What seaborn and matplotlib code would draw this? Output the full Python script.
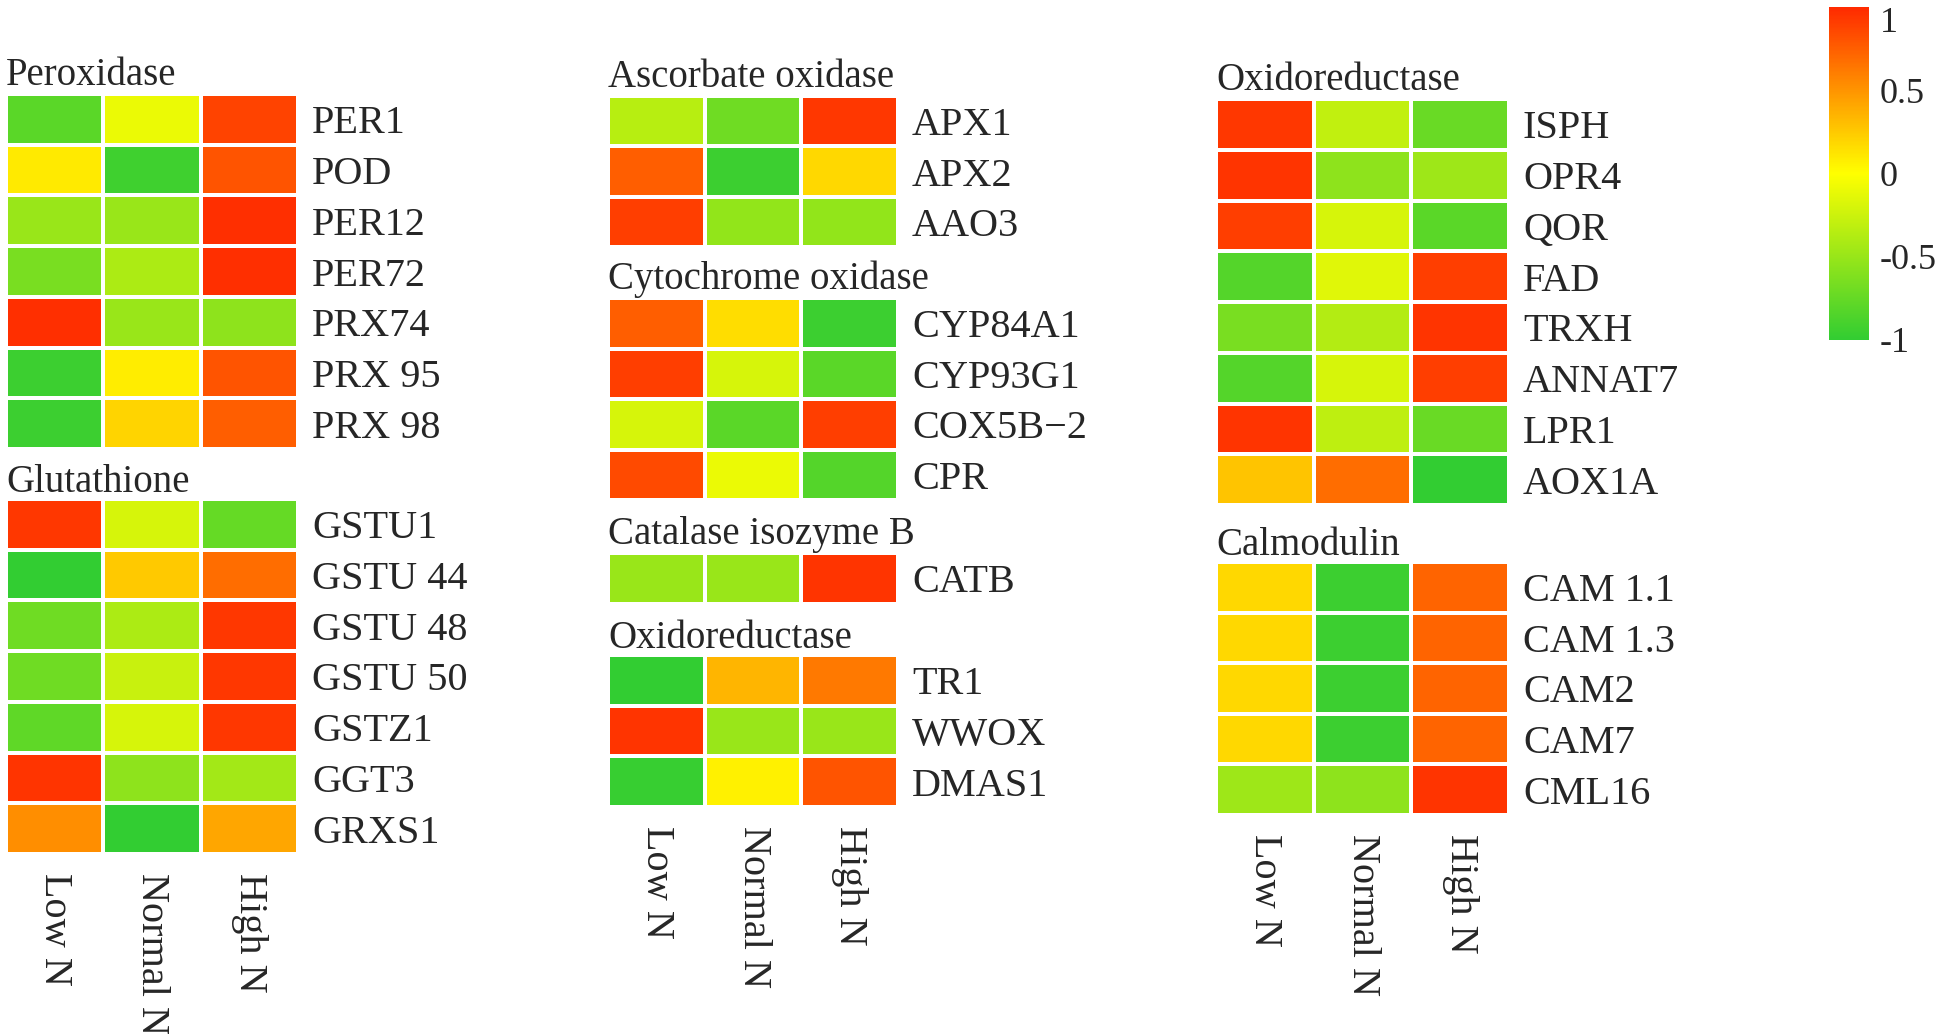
import numpy as np
import pandas as pd
import matplotlib
matplotlib.use('Agg')
import matplotlib.pyplot as plt
import seaborn as sns
from matplotlib.colors import LinearSegmentedColormap

conditions = ['Low N', 'Normal N', 'High N']

# values (scaled -1..1), columns = Low / Normal / High N
peroxidase_genes = ['PER1', 'POD', 'PER12', 'PER72', 'PRX74', 'PRX 95', 'PRX 98']
peroxidase_vals = [[-0.80, -0.10, 0.88],
                   [0.10, -0.93, 0.80],
                   [-0.50, -0.50, 0.97],
                   [-0.65, -0.40, 0.97],
                   [0.97, -0.50, -0.55],
                   [-0.95, 0.08, 0.80],
                   [-0.95, 0.20, 0.75]]

glutathione_genes = ['GSTU1', 'GSTU 44', 'GSTU 48', 'GSTU 50', 'GSTZ1', 'GGT3', 'GRXS1']
glutathione_vals = [[0.93, -0.20, -0.75],
                    [-1.00, 0.25, 0.68],
                    [-0.70, -0.40, 0.93],
                    [-0.70, -0.27, 0.93],
                    [-0.78, -0.20, 0.93],
                    [0.95, -0.55, -0.45],
                    [0.53, -1.00, 0.42]]

ascorbate_genes = ['APX1', 'APX2', 'AAO3']
ascorbate_vals = [[-0.35, -0.70, 0.93],
                  [0.75, -0.95, 0.18],
                  [0.90, -0.53, -0.53]]

cytochrome_genes = ['CYP84A1', 'CYP93G1', 'COX5B\u22122', 'CPR']
cytochrome_vals = [[0.75, 0.16, -0.95],
                   [0.90, -0.20, -0.80],
                   [-0.20, -0.80, 0.90],
                   [0.85, -0.10, -0.83]]

catalase_genes = ['CATB']
catalase_vals = [[-0.50, -0.50, 0.95]]

oxido_mid_genes = ['TR1', 'WWOX', 'DMAS1']
oxido_mid_vals = [[-1.00, 0.35, 0.63],
                  [0.95, -0.50, -0.50],
                  [-0.97, 0.07, 0.80]]

oxido_right_genes = ['ISPH', 'OPR4', 'QOR', 'FAD', 'TRXH', 'ANNAT7', 'LPR1', 'AOX1A']
oxido_right_vals = [[0.93, -0.30, -0.73],
                    [0.95, -0.55, -0.47],
                    [0.90, -0.20, -0.80],
                    [-0.83, -0.15, 0.90],
                    [-0.65, -0.37, 0.95],
                    [-0.83, -0.20, 0.90],
                    [0.95, -0.32, -0.73],
                    [0.28, 0.68, -1.00]]

calmodulin_genes = ['CAM 1.1', 'CAM 1.3', 'CAM2', 'CAM7', 'CML16']
calmodulin_vals = [[0.18, -0.95, 0.72],
                   [0.18, -0.95, 0.72],
                   [0.18, -0.95, 0.72],
                   [0.18, -0.95, 0.72],
                   [-0.47, -0.55, 0.95]]

cbar_ticks = [1, 0.5, 0, -0.5, -1]
cbar_labels = ['1', '0.5', '0', '-0.5', '-1']

W, H = 1946, 1034
sns.set_theme(style='white')
plt.rcParams['font.family'] = ['Liberation Serif', 'DejaVu Serif']

cmap = LinearSegmentedColormap.from_list('gyr', ['#32CD32', '#FFFF00', '#FF2A00'])

fig = plt.figure(figsize=(W / 100, H / 100), dpi=100)


def px_axes(x0, y0, x1, y1):
    return fig.add_axes([x0 / W, 1 - y1 / H, (x1 - x0) / W, (y1 - y0) / H])


# title, genes, values, pixel box (x0, y0, x1, y1), show column labels
panels = [
    ('Peroxidase', peroxidase_genes, peroxidase_vals, (6, 94, 298, 449), False),
    ('Glutathione', glutathione_genes, glutathione_vals, (6, 499, 298, 854), True),
    ('Ascorbate oxidase', ascorbate_genes, ascorbate_vals, (608, 96, 898, 247), False),
    ('Cytochrome oxidase', cytochrome_genes, cytochrome_vals, (608, 298, 898, 500), False),
    ('Catalase isozyme B', catalase_genes, catalase_vals, (608, 553, 898, 604), False),
    ('Oxidoreductase', oxido_mid_genes, oxido_mid_vals, (608, 655, 898, 807), True),
    ('Oxidoreductase', oxido_right_genes, oxido_right_vals, (1216, 99, 1509, 505), False),
    ('Calmodulin', calmodulin_genes, calmodulin_vals, (1216, 562, 1509, 815), True),
]

cax = px_axes(1829, 7, 1869, 340)

for i, (title, genes, vals, box, show_x) in enumerate(panels):
    ax = px_axes(*box)
    df = pd.DataFrame(vals, index=genes, columns=conditions)
    sns.heatmap(df, ax=ax, cmap=cmap, vmin=-1, vmax=1, linewidths=1.5, linecolor='white',
                cbar=(i == 0), cbar_ax=cax if i == 0 else None,
                xticklabels=show_x, yticklabels=True)
    ax.yaxis.tick_right()
    ax.set_yticklabels(genes, rotation=0, fontsize=29)
    ax.tick_params(axis='y', length=0, pad=10)
    if show_x:
        ax.set_xticklabels(conditions, rotation=270, fontsize=29, va='top')
        ax.tick_params(axis='x', length=0, pad=14)
    ax.set_xlabel('')
    ax.set_ylabel('')
    ax.set_title(title, loc='left', fontsize=28, pad=5)

cbar = cax.collections[0].colorbar if cax.collections else None
cax.set_yticks(cbar_ticks)
cax.set_yticklabels(cbar_labels, fontsize=26)
cax.tick_params(length=0, pad=8)
cax.get_yticklabels()[0].set_va('top')
for s in cax.spines.values():
    s.set_visible(False)
if cbar is not None:
    cbar.outline.set_visible(False)

fig.savefig('out.png', dpi=100)
